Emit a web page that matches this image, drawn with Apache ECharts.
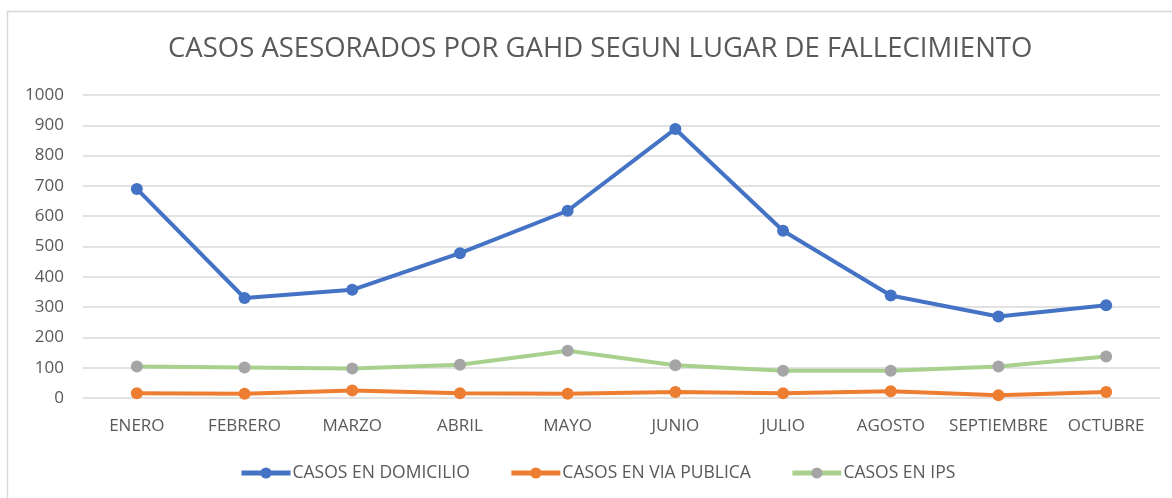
<!DOCTYPE html>
<html>
<head>
<meta charset="utf-8">
<script src="https://cdn.jsdelivr.net/npm/echarts@6/dist/echarts.min.js"></script>
<style>
  html, body { margin: 0; padding: 0; background: #fff; }
  #main { width: 1172px; height: 498px; }
</style>
</head>
<body>
<div id="main"></div>
<script>
// datos del grafico
var meses = ['ENERO', 'FEBRERO', 'MARZO', 'ABRIL', 'MAYO', 'JUNIO', 'JULIO', 'AGOSTO', 'SEPTIEMBRE', 'OCTUBRE'];
var domicilio = [690, 330, 357, 478, 618, 888, 552, 338, 269, 306];
var viaPublica = [16, 14, 25, 16, 14, 20, 16, 22, 9, 20];
var ips = [104, 101, 97, 110, 156, 108, 90, 90, 104, 137];

var fuente = 'Open Sans';
var gris = '#595959';

var chart = echarts.init(document.getElementById('main'));

function serie(nombre, datos, colorLinea, colorPunto) {
  return {
    name: nombre,
    type: 'line',
    data: datos,
    symbol: 'circle',
    symbolSize: 12,
    lineStyle: { width: 4, color: colorLinea },
    itemStyle: { color: colorPunto },
    emphasis: { disabled: true },
    animation: false
  };
}

var option = {
  backgroundColor: '#fff',
  title: {
    text: 'CASOS ASESORADOS POR GAHD SEGUN LUGAR DE FALLECIMIENTO',
    left: 163,
    top: 30,
    textStyle: { fontFamily: fuente, fontWeight: 'normal', fontSize: 27.5, color: gris }
  },
  graphic: [{
    type: 'rect',
    shape: { x: 7.5, y: 11.5, width: 1200, height: 600 },
    style: { fill: null, stroke: '#d9d9d9', lineWidth: 1.5 },
    silent: true
  }],
  legend: {
    top: 459,
    left: 234,
    itemWidth: 49,
    itemHeight: 14,
    itemGap: 39,
    lineStyle: { width: 5 },
    textStyle: { fontFamily: fuente, fontSize: 17.5, color: gris, padding: [0, 0, 0, -3] },
    data: ['CASOS EN DOMICILIO', 'CASOS EN VIA PUBLICA', 'CASOS EN IPS']
  },
  grid: { left: 83, right: 12, top: 95, bottom: 100 },
  xAxis: {
    type: 'category',
    data: meses,
    boundaryGap: true,
    axisLine: { show: false },
    axisTick: { show: false },
    axisLabel: { fontFamily: fuente, fontSize: 17, color: gris, margin: 20, interval: 0 }
  },
  yAxis: {
    type: 'value',
    min: 0,
    max: 1000,
    interval: 100,
    axisLine: { show: false },
    axisTick: { show: false },
    splitLine: { lineStyle: { color: '#d9d9d9', width: 1.5 } },
    axisLabel: {
      fontFamily: fuente, fontSize: 17, color: gris, margin: 19,
      formatter: function (v) { return String(v); }
    }
  },
  series: [
    serie('CASOS EN DOMICILIO', domicilio, '#4472c4', '#4472c4'),
    serie('CASOS EN VIA PUBLICA', viaPublica, '#ed7d31', '#ed7d31'),
    serie('CASOS EN IPS', ips, '#a9d18e', '#a5a5a5')
  ]
};

chart.setOption(option);
</script>
</body>
</html>
